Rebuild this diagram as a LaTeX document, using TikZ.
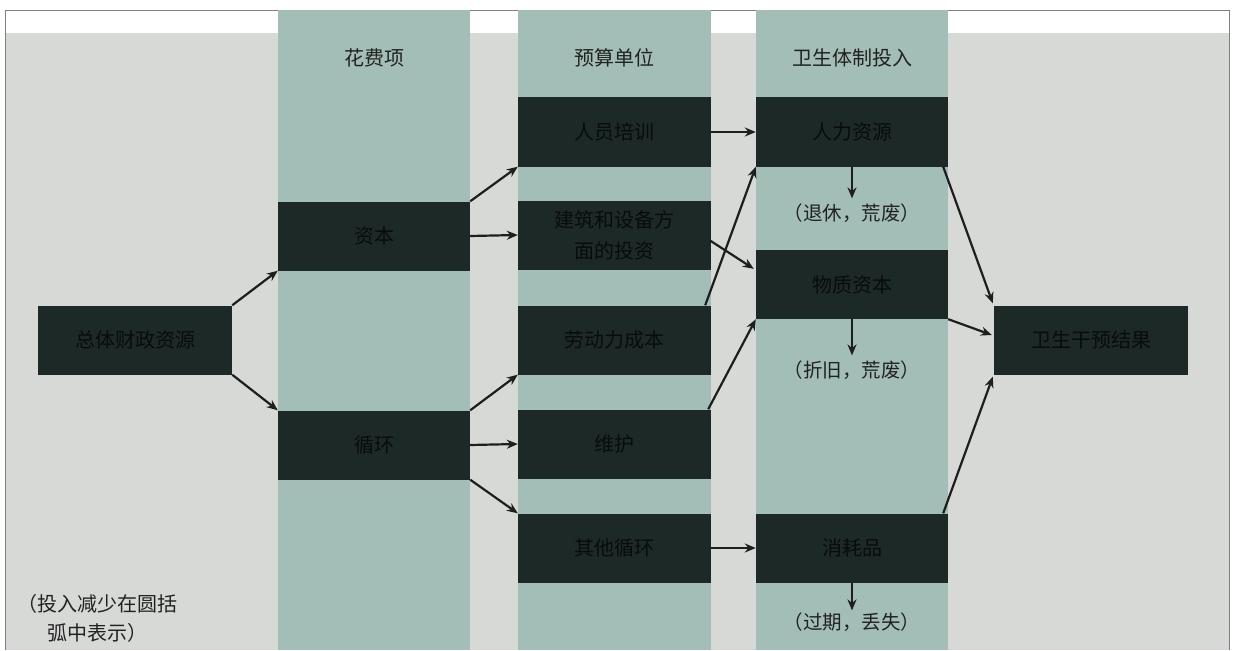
\documentclass[tikz,border=0pt]{standalone}
\usepackage{fontspec}
\newfontfamily\cjk{Noto Sans CJK SC}
\usetikzlibrary{arrows.meta,calc}
\definecolor{bgc}{HTML}{D6D9D6}
\definecolor{colc}{HTML}{A2BEB6}
\definecolor{boxc}{HTML}{1D2927}
\definecolor{boxtxt}{HTML}{080C0B}
\definecolor{arrc}{HTML}{1E1E1E}
\definecolor{txtc}{HTML}{222222}
\begin{document}
\begin{tikzpicture}[x=1pt,y=-1pt,
  box/.style={fill=boxc, minimum width=193pt, minimum height=69pt, inner sep=0pt,
    font=\cjk\fontsize{20}{24}\selectfont, text=boxtxt, align=center},
  head/.style={font=\cjk\fontsize{20}{24}\selectfont, text=txtc},
  loss/.style={font=\cjk\fontsize{19.5}{24}\selectfont, text=txtc, inner sep=1pt},
  arr/.style={-{Stealth[length=11pt,width=9pt]}, line width=2.2pt, draw=arrc}]
\useasboundingbox (0,0) rectangle (1233,650);
\fill[white] (0,0) rectangle (1233,650);
\fill[bgc] (5,33) rectangle (1229,650);
\draw[gray, line width=0.8pt] (5,650) -- (5,10) -- (1229,10) -- (1229,650);
% columns
\fill[colc] (278,10) rectangle (470,650);
\fill[colc] (518,10) rectangle (711,650);
\fill[colc] (756,10) rectangle (948,650);
% headers
\node[head] (h1) at (374,58) {花费项};
\node[head] (h2) at (614,58) {预算单位};
\node[head] (h3) at (852,58) {卫生体制投入};
% boxes
\node[box, minimum width=194pt] (zt) at (135,340) {总体财政资源};
\node[box, minimum width=192pt] (zb) at (374,236) {资本};
\node[box, minimum width=192pt] (xhh) at (374,445) {循环};
\node[box] (ry) at (614.5,132) {人员培训};
\node[box, font=\cjk\fontsize{20}{31}\selectfont] (jz) at (614.5,235) {建筑和设备方\\面的投资};
\node[box] (ld) at (614.5,340) {劳动力成本};
\node[box] (wh) at (614.5,444) {维护};
\node[box] (qt) at (614.5,548) {其他循环};
\node[box, minimum width=192pt] (rl) at (852,132) {人力资源};
\node[box, minimum width=192pt] (wz) at (852,284.5) {物质资本};
\node[box, minimum width=192pt] (xh) at (852,548) {消耗品};
\node[box, minimum width=194pt] (jg) at (1091,340) {卫生干预结果};
% loss labels
\node[loss] (l1) at (852,213) {（退休，荒废）};
\node[loss] (l2) at (852,370) {（折旧，荒废）};
\node[loss] (l3) at (852,622) {（过期，丢失）};
\node[head, align=center, font=\cjk\fontsize{20}{29}\selectfont] (note) at (97,618) {（投入减少在圆括\\弧中表示）};
% arrows
\draw[arr] (zt.north east) -- (zb.south west);
\draw[arr] (zt.south east) -- (xhh.north west);
\draw[arr] (zb.north east) -- (ry.south west);
\draw[arr] (zb.east) -- (jz.west);
\draw[arr] (xhh.north east) -- (ld.south west);
\draw[arr] (xhh.east) -- (wh.west);
\draw[arr] (xhh.south east) -- (qt.north west);
\draw[arr] (ry.east) -- (rl.west);
\draw[arr] ($(jz.east)+(-2,5)$) -- ($(wz.north west)+(-2,19)$);
\draw[arr] ($(ld.north east)+(-6,0)$) -- (rl.south west);
\draw[arr] ($(wh.north east)+(-3,0)$) -- (wz.south west);
\draw[arr] (qt.east) -- (xh.west);
\draw[arr] ($(rl.south east)+(-5,0)$) -- ($(jg.north west)+(-1,-2)$);
\draw[arr] (wz.south east) -- ($(jg.west)+(-2,-5)$);
\draw[arr] ($(xh.north east)+(-5,0)$) -- ($(jg.south west)+(-1,2)$);
\draw[arr, shorten >=4pt] (rl.south) -- (l1.north);
\draw[arr, shorten >=4pt] (wz.south) -- (l2.north);
\draw[arr, shorten >=1pt] (xh.south) -- (l3.north);
\end{tikzpicture}
\end{document}
